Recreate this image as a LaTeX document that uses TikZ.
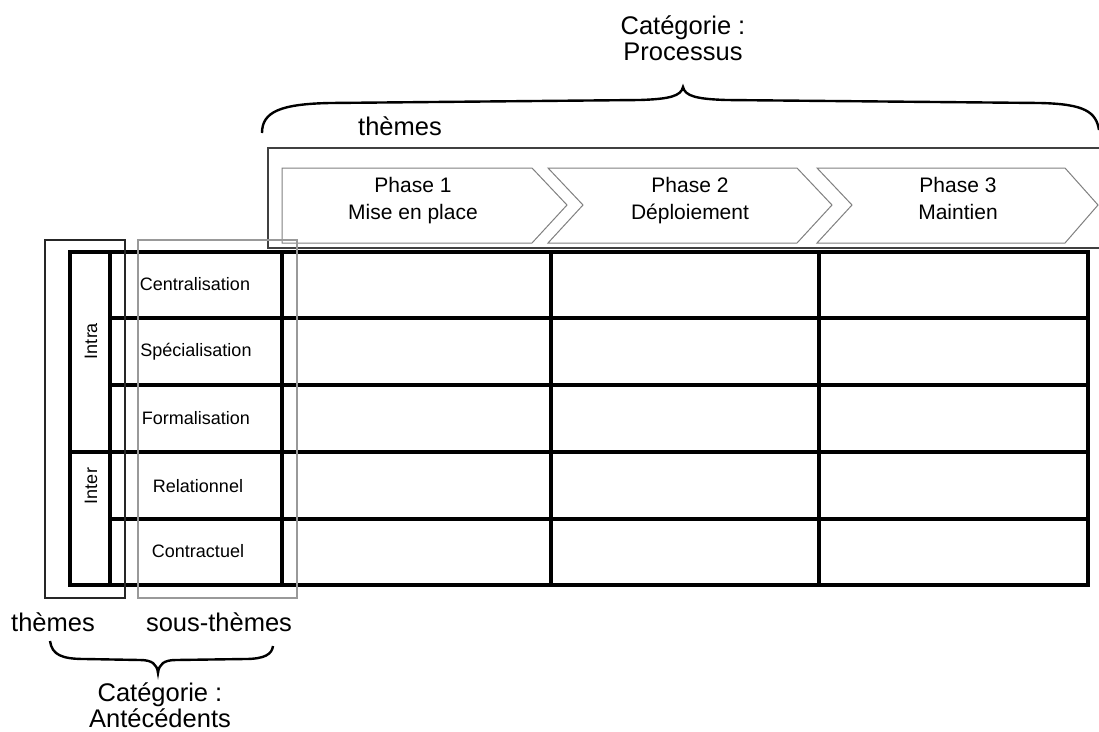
\documentclass[tikz,border=0pt]{standalone}
\usepackage{fontspec}
\setmainfont{Liberation Sans}
\begin{document}
\begin{tikzpicture}[x=1pt,y=-1pt,
  grid/.style={line width=3.3pt,black},
  themebox/.style={line width=2.3pt,draw=black!85},
  subbox/.style={line width=2.8pt,draw=black!40},
  procbox/.style={line width=2.6pt,draw=black!75},
  chev/.style={line width=1pt,draw=black!50,fill=white},
  brace/.style={line width=2.4pt,black},
  big/.style={font=\fontsize{25.5}{26}\selectfont,align=center,inner sep=0pt},
  phase/.style={font=\fontsize{21}{27}\selectfont,align=center,inner sep=0pt,anchor=north},
  sub/.style={font=\fontsize{18}{20}\selectfont,inner sep=0pt},
  ]
\useasboundingbox (0,0) rectangle (1099,731);
% process box
\draw[procbox] (1105,148) -- (268,148) -- (268,248) -- (1105,248);
% chevrons
\draw[chev] (282,168) -- (532,168) -- (567,205) -- (532,243) -- (282,243) -- cycle;
\draw[chev] (548,168) -- (797,168) -- (832,205) -- (797,243) -- (548,243) -- (583,205) -- cycle;
\draw[chev] (817,168) -- (1065,168) -- (1098,205) -- (1065,243) -- (817,243) -- (852,205) -- cycle;
\node[phase] (p1) at (413,177) {Phase 1\\Mise en place};
\node[phase] (p2) at (690,177) {Phase 2\\Déploiement};
\node[phase] (p3) at (958,177) {Phase 3\\Maintien};
% table
\draw[grid] (70,252) rectangle (1088,585);
\foreach \x in {110,282,551,819} \draw[grid] (\x,252) -- (\x,585);
\foreach \y in {318,385,519} \draw[grid] (110,\y) -- (1088,\y);
\draw[grid] (70,452) -- (1088,452);
% theme boxes
\draw[themebox] (45,240) rectangle (125,598);
\draw[subbox] (138,240) rectangle (297,598);
% labels
\node[sub] (c1) at (195,284) {Centralisation};
\node[sub] (c2) at (196,352) {Spécialisation};
\node[sub] (c3) at (196,418) {Formalisation};
\node[sub] (c4) at (198,486) {Relationnel};
\node[sub] (c5) at (198,551) {Contractuel};
\node[sub,rotate=90] (intra) at (91,341) {Intra};
\node[sub,rotate=90] (inter) at (91,486) {Inter};
% top
\node[big] (cp) at (683,38) {Catégorie :\\Processus};
\node[big] (tp) at (400,126) {thèmes};
\draw[brace] (262,133) .. controls (262,112) and (280,104) .. (330,103) -- (640,100) .. controls (670,99) and (681,96) .. (683,87) .. controls (685,96) and (696,99) .. (726,100) -- (1040,103) .. controls (1085,104) and (1096,112) .. (1099,130);
% bottom
\node[big] (tb) at (53,622) {thèmes};
\node[big] (stb) at (219,622) {sous-thèmes};
\draw[brace] (50,641) .. controls (52,655) and (62,659) .. (85,659) -- (140,660) .. controls (152,660) and (157,664) .. (158,673) .. controls (159,664) and (164,660) .. (176,660) -- (245,659) .. controls (265,659) and (272,654) .. (273,646);
\node[big] (ca) at (160,705) {Catégorie :\\Antécédents};
\end{tikzpicture}
\end{document}
